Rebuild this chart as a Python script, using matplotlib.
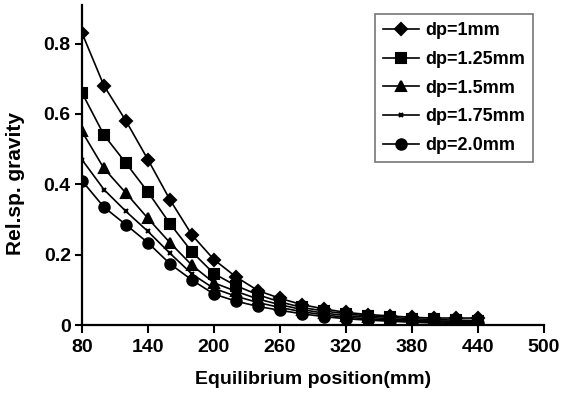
import numpy as np
import matplotlib
matplotlib.use('Agg')
import matplotlib.pyplot as plt

plt.rcParams['font.family'] = ['Liberation Sans', 'DejaVu Sans']
plt.rcParams['font.weight'] = 'bold'

positions = [80, 100, 120, 140, 160, 180, 200, 220, 240, 260,
             280, 300, 320, 340, 360, 380, 400, 420, 440]

dp_1 = [0.83, 0.68, 0.58, 0.47, 0.356, 0.256, 0.186, 0.137, 0.098, 0.076,
        0.058, 0.046, 0.036, 0.030, 0.026, 0.022, 0.020, 0.020, 0.020]
dp_125 = [0.66, 0.54, 0.46, 0.378, 0.288, 0.208, 0.146, 0.112, 0.086, 0.066,
          0.050, 0.040, 0.032, 0.026, 0.022, 0.018, 0.016, 0.014, 0.013]
dp_15 = [0.55, 0.445, 0.375, 0.303, 0.234, 0.170, 0.120, 0.096, 0.074, 0.058,
         0.044, 0.034, 0.027, 0.022, 0.018, 0.014, 0.012, 0.011, 0.010]
dp_175 = [0.47, 0.385, 0.323, 0.266, 0.204, 0.145, 0.104, 0.082, 0.064, 0.050,
          0.038, 0.029, 0.022, 0.018, 0.014, 0.011, 0.009, 0.008, 0.007]
dp_20 = [0.41, 0.335, 0.285, 0.234, 0.174, 0.128, 0.088, 0.068, 0.053, 0.042,
         0.032, 0.024, 0.018, 0.014, 0.011, 0.008, 0.006, 0.005, 0.005]

labels = ['dp=1mm', 'dp=1.25mm', 'dp=1.5mm', 'dp=1.75mm', 'dp=2.0mm']
series = [dp_1, dp_125, dp_15, dp_175, dp_20]
markers = ['D', 's', '^', 'x', 'o']
msizes = [6, 7.5, 7.5, 3.5, 7.5]

x_ticks = [80, 140, 200, 260, 320, 380, 440, 500]
y_ticks = [0, 0.2, 0.4, 0.6, 0.8]
y_ticklabels = ['0', '0.2', '0.4', '0.6', '0.8']

fig = plt.figure(figsize=(5.63, 3.95), dpi=100)
ax = fig.add_axes([0.1456, 0.177, 0.8206, 0.81])

for vals, lab, m, ms in zip(series, labels, markers, msizes):
    ax.plot(positions, vals, color='black', lw=1.2, marker=m, ms=ms,
            mew=1.5, label=lab)

ax.set_xlim(80, 500)
ax.set_ylim(0, 0.909)
ax.set_xticks(x_ticks)
ax.set_yticks(y_ticks)
ax.set_yticklabels(y_ticklabels)
ax.tick_params(labelsize=14, width=1.5, length=5, direction='out', pad=3)
ax.tick_params(axis='x', length=6, pad=4)
for lab in ax.get_xticklabels() + ax.get_yticklabels():
    lab.set_fontweight('bold')

ax.spines['top'].set_visible(False)
ax.spines['right'].set_visible(False)
ax.spines['left'].set_linewidth(1.6)
ax.spines['bottom'].set_linewidth(1.6)

ax.set_xlabel('Equilibrium position(mm)', fontsize=14, fontweight='bold',
              labelpad=11)
ax.set_ylabel('Rel.sp. gravity', fontsize=15, fontweight='bold')
ax.yaxis.set_label_coords(-0.123, 0.444)

leg = ax.legend(loc='upper right', bbox_to_anchor=(0.976, 0.972), fontsize=13,
                frameon=True, fancybox=False, edgecolor='#555555',
                handlelength=2.0, handletextpad=0.3, labelspacing=0.65,
                borderpad=0.45, borderaxespad=0)
leg.get_frame().set_linewidth(1.2)
for t in leg.get_texts():
    t.set_fontweight('bold')

fig.savefig('out.png', dpi=100)
